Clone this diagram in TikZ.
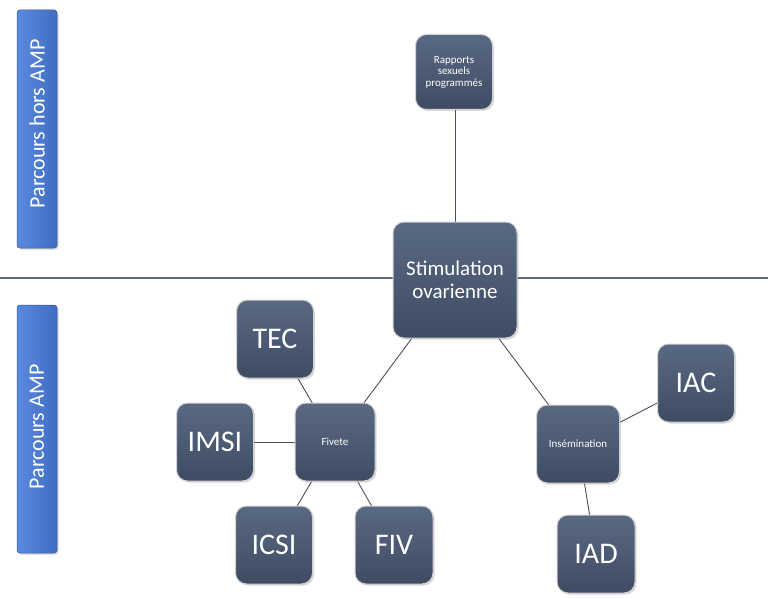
\documentclass[tikz,border=0pt]{standalone}
\usepackage{fontspec}
\setmainfont{Carlito}
\usetikzlibrary{shadows,backgrounds}
\definecolor{nodetop}{HTML}{5A6983}
\definecolor{nodebot}{HTML}{3E4B63}
\definecolor{bartop}{HTML}{5A8AE0}
\definecolor{barbot}{HTML}{3F6DC2}
\definecolor{linkcol}{HTML}{4A4F5E}
\definecolor{sepcol}{HTML}{5E6984}
\tikzset{
  box/.style={rounded corners=11pt, draw=gray!35, line width=1pt,
    top color=nodetop, bottom color=nodebot, text=white, align=center,
    inner sep=0pt,
    drop shadow={opacity=0.3, shadow xshift=1.5pt, shadow yshift=-1.5pt}},
  bar/.style={rounded corners=3pt, draw=barbot!80!black, line width=0.5pt,
    left color=bartop, right color=barbot, text=white, inner sep=0pt,
    minimum width=40pt, minimum height=238pt,
    drop shadow={opacity=0.3, shadow xshift=1.5pt, shadow yshift=-1.5pt}},
  link/.style={draw=linkcol, line width=0.9pt},
  bigtxt/.style={font=\fontsize{30}{32}\selectfont},
  midtxt/.style={font=\fontsize{21}{23}\selectfont},
  smalltxt/.style={font=\fontsize{11}{11.5}\selectfont},
  bartxt/.style={font=\fontsize{22}{24}\selectfont}
}
\begin{document}
\begin{tikzpicture}[x=1pt,y=-1pt]
\useasboundingbox (0,0) rectangle (768,599);

% side bars
\node[bar] (barA) at (37,129) {};
\node[bartxt, text=white, rotate=90] (barAt) at (37,124) {Parcours hors AMP};
\node[bar, minimum height=248pt] (barB) at (37,429) {};
\node[bartxt, text=white, rotate=90] (barBt) at (37,427) {Parcours AMP};

% nodes
\node[box, minimum width=124pt, minimum height=116pt, midtxt] (stim) at (455,280) {Stimulation\\ovarienne};
\node[box, minimum width=77pt, minimum height=75pt, smalltxt] (rapp) at (454,72) {Rapports\\sexuels\\programmés};
\node[box, minimum width=80pt, minimum height=78pt, font=\fontsize{11}{12}\selectfont] (fiv) at (335,442) {Fivete};
\node[box, minimum width=83pt, minimum height=78pt, font=\fontsize{11}{12}\selectfont] (ins) at (578,444) {Insémination};
\node[box, minimum width=77pt, minimum height=78pt, bigtxt] (tec) at (275,339) {TEC};
\node[box, minimum width=77pt, minimum height=78pt, bigtxt] (imsi) at (215,442) {IMSI};
\node[box, minimum width=77pt, minimum height=78pt, bigtxt] (icsi) at (274,545) {ICSI};
\node[box, minimum width=78pt, minimum height=78pt, bigtxt] (fivb) at (394,545) {FIV};
\node[box, minimum width=77pt, minimum height=78pt, bigtxt] (iac) at (696,383) {IAC};
\node[box, minimum width=78pt, minimum height=78pt, bigtxt] (iad) at (596,554) {IAD};

\coordinate (sepL) at (0,278);
\coordinate (sepR) at (768,278);

\begin{scope}[on background layer]
\fill[white] (0,0) rectangle (768,599);
\draw[draw=sepcol, line width=1.2pt] (sepL) -- (sepR);
\draw[link] (rapp.center) -- (stim.center |- rapp.center) -- (stim.center);
\draw[link] (stim.center) -- (fiv.center);
\draw[link] (stim.center) -- (ins.center);
\draw[link] (fiv.center) -- (tec.center);
\draw[link] (fiv.center) -- (imsi.center);
\draw[link] (fiv.center) -- (icsi.center);
\draw[link] (fiv.center) -- (fivb.center);
\draw[link] (ins.center) -- (iac.center);
\draw[link] (ins.center) -- (iad.center);
\end{scope}
\end{tikzpicture}
\end{document}
